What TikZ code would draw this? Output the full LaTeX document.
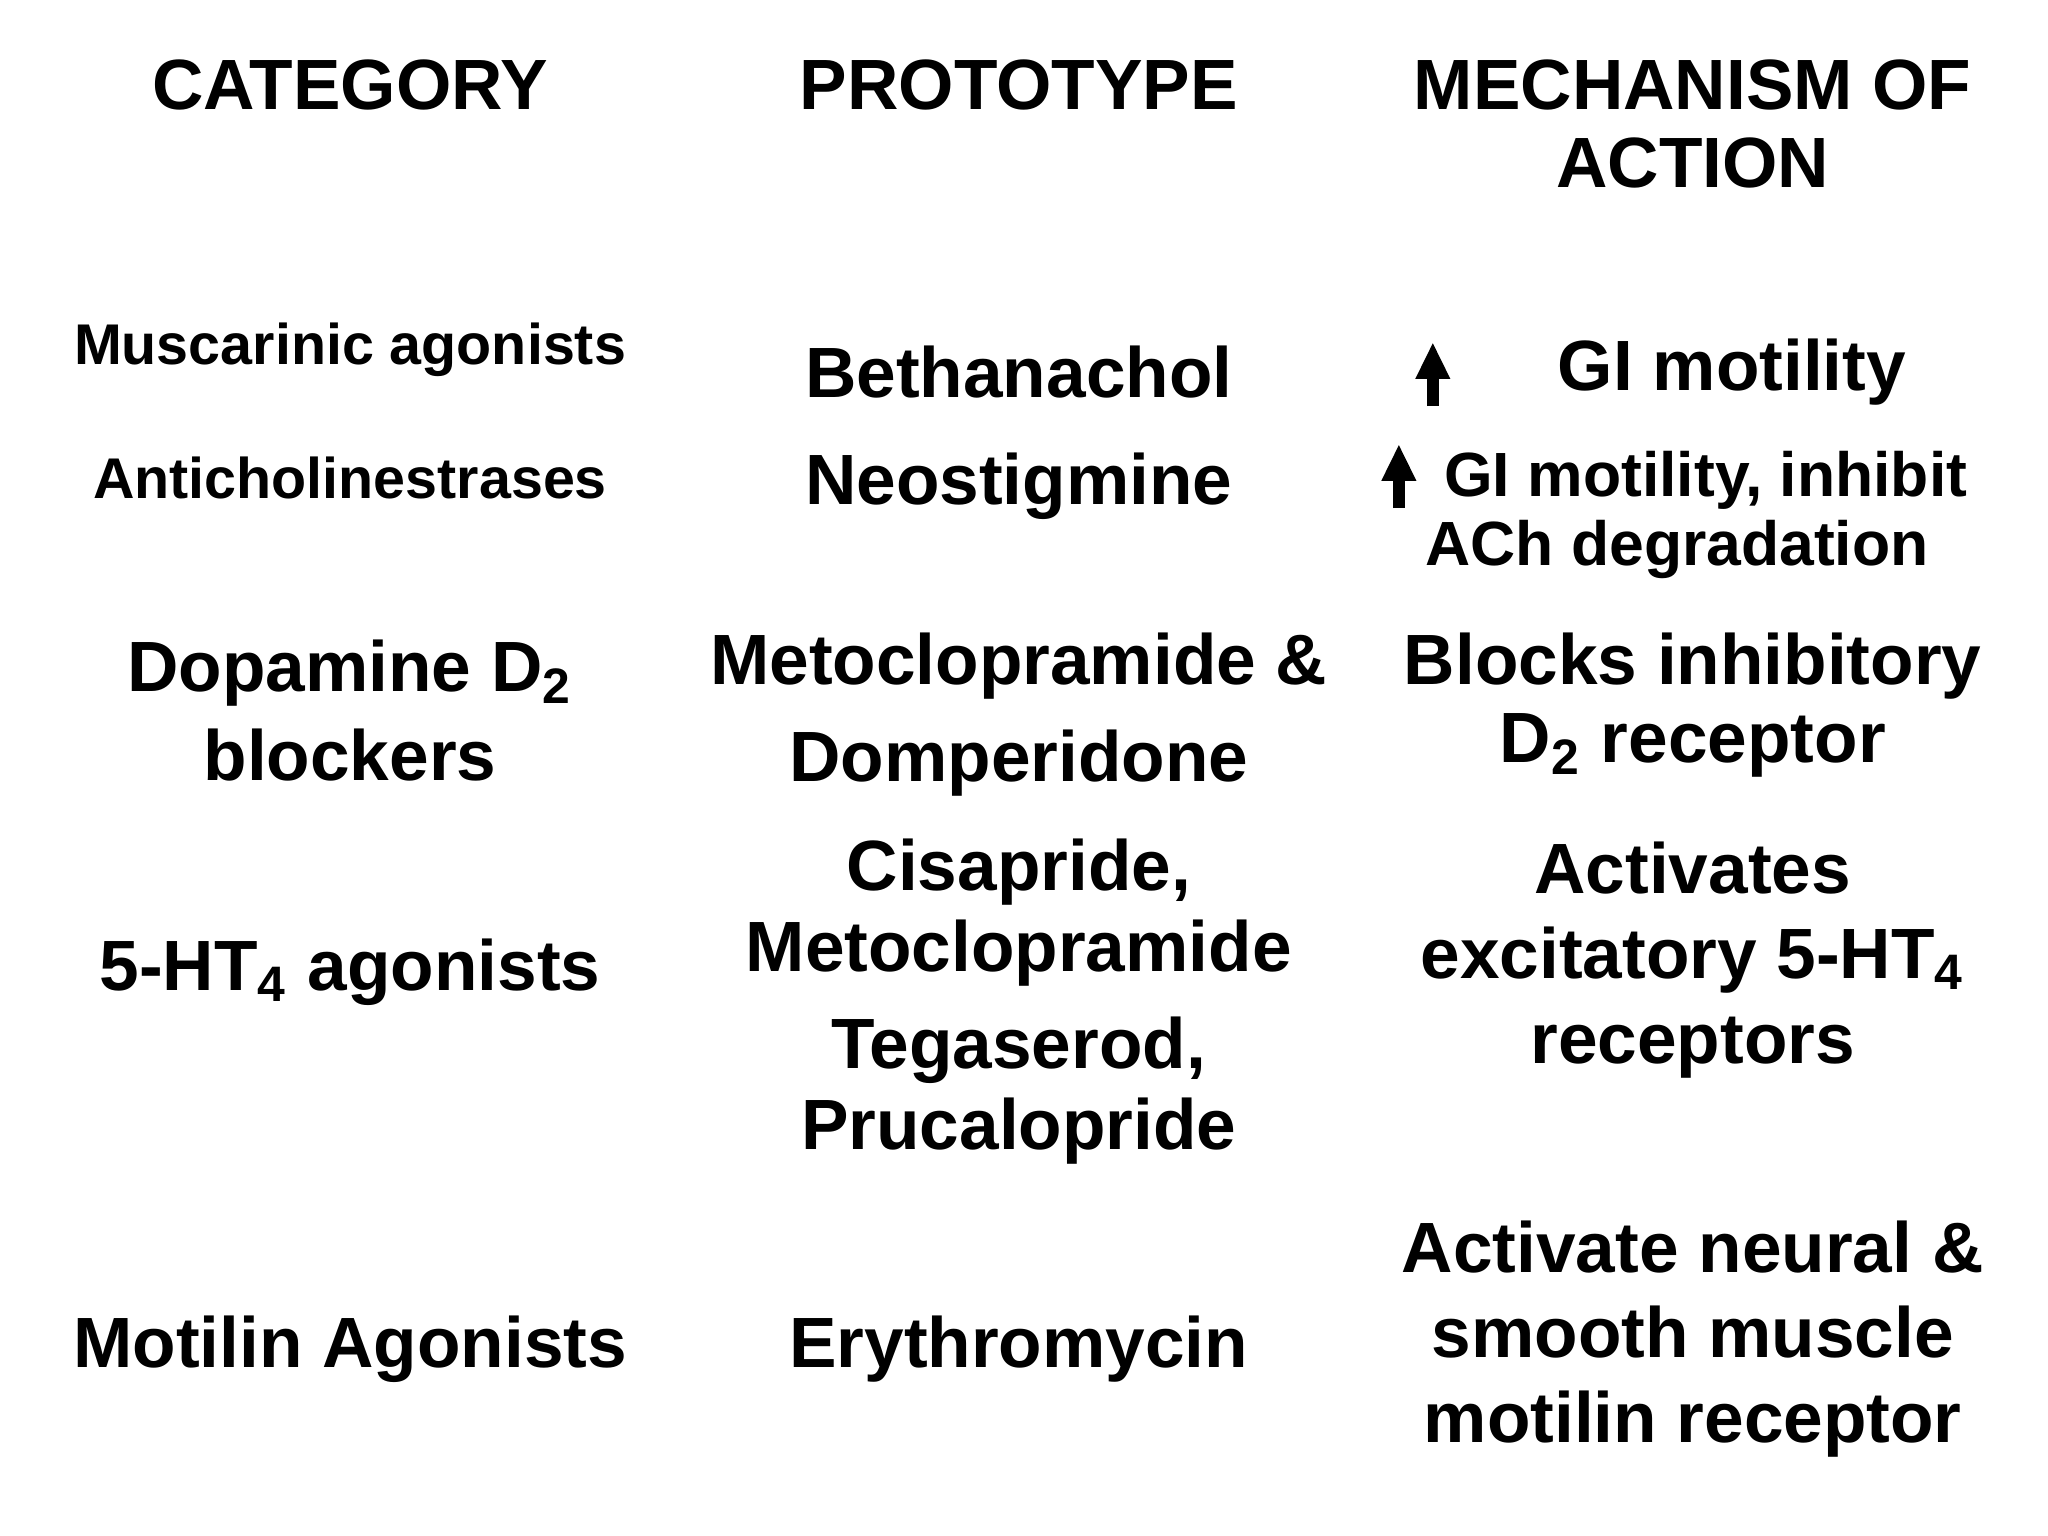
\documentclass[tikz,border=0pt]{standalone}
\usepackage{fontspec}
\setmainfont{Liberation Sans}
\usetikzlibrary{arrows.meta}
\begin{document}
\begin{tikzpicture}[x=0.01cm,y=-0.01cm,
  big/.style={font=\bfseries\fontsize{15.5}{17}\selectfont,align=center,inner sep=0},
  mid/.style={font=\bfseries\fontsize{13.6}{15}\selectfont,align=center,inner sep=0},
  sml/.style={font=\bfseries\fontsize{12.5}{14}\selectfont,align=center,inner sep=0},
  uparrow/.style={-{Triangle[length=8pt,width=7pt]},line width=2.6pt}]
\useasboundingbox (0,0) rectangle (1568,1176);
\node[big] (h1) at (268,65) {CATEGORY};
\node[big] (h2) at (780,65) {PROTOTYPE};
\node[big] (h3) at (1296,95) {MECHANISM OF\\ACTION};
\node[sml] (c1) at (268,268) {Muscarinic agonists};
\node[big] (p1) at (780,285) {Bethanachol};
\coordinate (a1s) at (1097,311); \coordinate (a1e) at (1097,262);
\draw[uparrow] (a1s) -- (a1e);
\node[big] (m1) at (1326,285) {GI motility};
\node[sml] (c2) at (268,366) {Anticholinestrases};
\node[big] (p2) at (780,372) {Neostigmine};
\coordinate (a2s) at (1071,389); \coordinate (a2e) at (1071,340);
\draw[uparrow] (a2s) -- (a2e);
\node[mid] (m2a) at (1306,368) {GI motility, inhibit};
\node[mid] (m2b) at (1284,421) {ACh degradation};
\node[big] (c3) at (268,544) {Dopamine D\textsubscript{2}\\[2.3pt]blockers};
\node[big] (p3) at (780,547) {Metoclopramide \&\\[4pt]Domperidone};
\node[big] (m3) at (1296,540) {Blocks inhibitory\\D\textsubscript{2} receptor};
\node[big] (c4) at (268,744) {5-HT\textsubscript{4} agonists};
\node[big] (p4a) at (780,699) {Cisapride,\\[0.6pt]Metoclopramide};
\node[big] (p4b) at (780,835) {Tegaserod,\\[0.6pt]Prucalopride};
\node[big] (m4) at (1296,735) {Activates\\[1.5pt]excitatory 5-HT\textsubscript{4}\\[1.5pt]receptors};
\node[big] (c5) at (268,1033) {Motilin Agonists};
\node[big] (p5) at (780,1033) {Erythromycin};
\node[big] (m5) at (1296,1025) {Activate neural \&\\[1.5pt]smooth muscle\\[1.5pt]motilin receptor};
\end{tikzpicture}
\end{document}
